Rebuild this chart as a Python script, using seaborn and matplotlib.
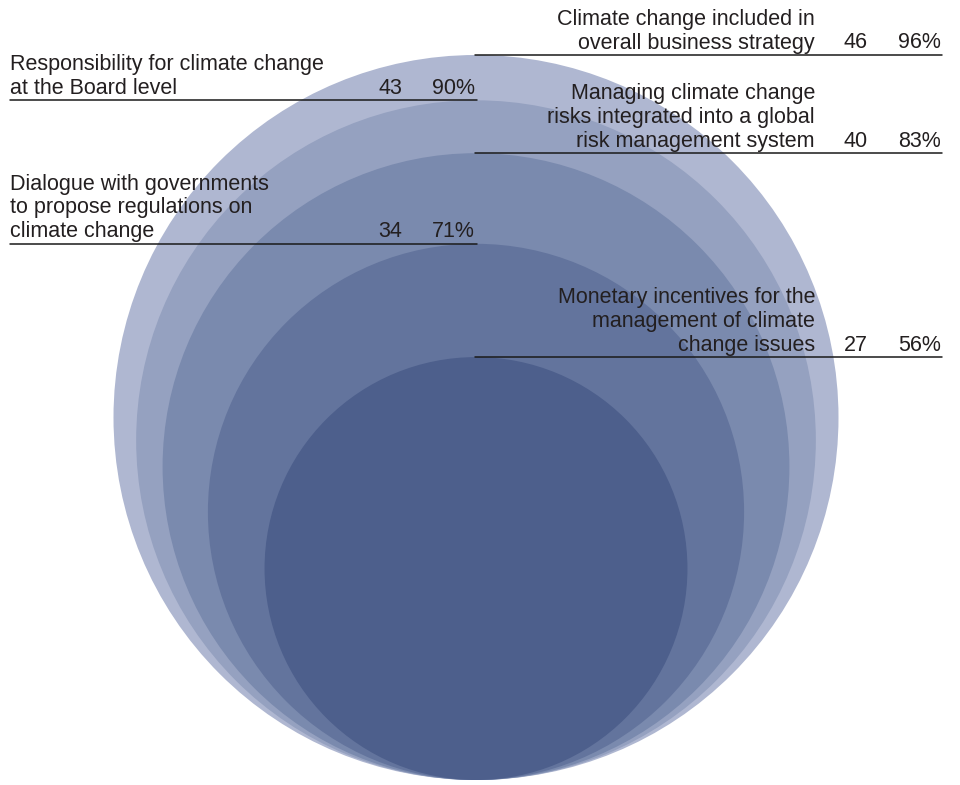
import matplotlib
matplotlib.use("Agg")
import matplotlib.pyplot as plt
from matplotlib.patches import Circle
import seaborn as sns

# data
labels = [
    "Climate change included in\noverall business strategy",
    "Responsibility for climate change\nat the Board level",
    "Managing climate change\nrisks integrated into a global\nrisk management system",
    "Dialogue with governments\nto propose regulations on\nclimate change",
    "Monetary incentives for the\nmanagement of climate\nchange issues",
]
counts = [46, 43, 40, 34, 27]
percents = [96, 90, 83, 71, 56]
sides = ["right", "left", "right", "left", "right"]

colors = ["#afb7d1", "#95a1c0", "#7a8aae", "#63749d", "#4d5f8c"]

sns.set_theme(style="white")
plt.rcParams["font.family"] = ["Liberation Sans", "DejaVu Sans"]

W, H = 960, 785
fig = plt.figure(figsize=(W / 100, H / 100), dpi=100)
ax = fig.add_axes([0, 0, 1, 1])
ax.set_xlim(0, W)
ax.set_ylim(H, 0)
ax.axis("off")

cx = 476
bottom = 780
unit = 362.5 / 96  # radius per percent point
txt_color = "#231f20"
fs = 15.5
ls = 1.18

for i, (lab, n, p, side) in enumerate(zip(labels, counts, percents, sides)):
    r = p * unit
    ax.add_patch(Circle((cx, bottom - r), r, facecolor=colors[i],
                        edgecolor="none", zorder=1 + i))
    top = bottom - 2 * r
    kw = dict(va="bottom", fontsize=fs, color=txt_color, zorder=11,
              linespacing=ls)
    if side == "right":
        ax.plot([cx - 1, 942], [top, top], color="#1a1a1a", lw=1.1, zorder=10)
        ax.text(815, top - 1.5, lab, ha="right", multialignment="right", **kw)
        ax.text(868, top - 1.5, str(n), ha="right", **kw)
        ax.text(941, top - 1.5, f"{p}%", ha="right", **kw)
    else:
        ax.plot([10, cx + 1], [top, top], color="#1a1a1a", lw=1.1, zorder=10)
        ax.text(10, top - 1.5, lab, ha="left", **kw)
        ax.text(402, top - 1.5, str(n), ha="right", **kw)
        ax.text(475, top - 1.5, f"{p}%", ha="right", **kw)

fig.savefig("out.png", dpi=100, facecolor="white")
